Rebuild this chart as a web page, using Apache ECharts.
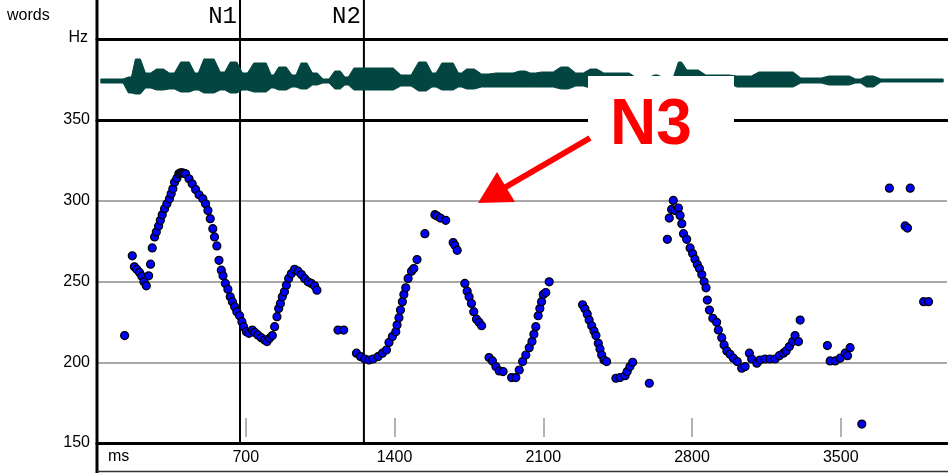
<!DOCTYPE html>
<html>
<head>
<meta charset="utf-8">
<title>pitch track</title>
<script src="https://cdn.jsdelivr.net/npm/echarts@6/dist/echarts.min.js"></script>
<style>
  html, body { margin: 0; padding: 0; background: #fff; }
  #chart { width: 948px; height: 473px; }
</style>
</head>
<body>
<div id="chart"></div>
<script>
// pitch track (ms, Hz)
const pitchMs = [
  130, 166, 176, 187, 200, 211, 221, 232, 243, 252, 260, 271, 279, 290, 298, 307, 318, 329, 341, 349,
  357, 365, 376, 385, 393, 401, 409, 417, 433, 448, 464, 480, 498, 511, 522, 533, 545, 553, 564, 574,
  585, 593, 604, 616, 627, 637, 648, 658, 671, 682, 690, 703, 715, 731, 742, 757, 773, 789, 800, 812,
  825, 836, 847, 855, 863, 872, 882, 891, 902, 915, 930, 946, 962, 977, 993, 1009, 1024, 1035,
  1134, 1161,
  1221, 1240, 1260, 1280, 1299, 1323, 1343, 1362, 1374, 1390, 1406, 1412, 1421, 1428, 1437, 1444, 1453, 1464,
  1480, 1491, 1506, 1543, 1590, 1600, 1616, 1641, 1676, 1684, 1695,
  1731, 1742, 1751, 1762, 1773, 1786, 1798, 1810,
  1845, 1861, 1877, 1893, 1911, 1951, 1971, 1987, 2003, 2018, 2034, 2047, 2056, 2065, 2076, 2084, 2092, 2100,
  2112, 2128,
  2285, 2296, 2307, 2316, 2328, 2339, 2348, 2359, 2367, 2375, 2386, 2398,
  2442, 2461, 2485, 2495, 2508, 2521, 2599,
  2684, 2693, 2704, 2712, 2720, 2736, 2744, 2752, 2760, 2775, 2791, 2803, 2814, 2825, 2835, 2846, 2857, 2866,
  2872, 2882, 2898, 2916, 2924, 2940, 2951, 2964, 2979, 2995, 3013, 3034, 3050, 3070, 3081, 3105, 3120, 3144,
  3167, 3191, 3211, 3230, 3243, 3258, 3274, 3285, 3301, 3309,
  3437, 3450, 3474, 3497, 3521, 3532, 3544, 3599,
  3729, 3803, 3814, 3827, 3890, 3913
]
const pitchHz = [
  216.5, 265.9, 259.1, 257.6, 255.6, 253.3, 249.8, 247.3, 253.5, 260.7, 270.8, 277.6, 280.7, 284.4, 287.9, 291.4, 295.1, 298.1, 301.2, 304.3,
  307.4, 311.5, 314, 316.7, 317.3, 317.3, 317, 316.7, 313.6, 310.5, 307, 303.7, 301.2, 298.1, 294, 288.9, 282.7, 277.6, 272, 263.1,
  257, 253.5, 248.8, 245.2, 240.5, 237.5, 234.4, 231.3, 228.8, 225.1, 222, 218.9, 217.9, 219.9, 218.5, 216.9, 215.2, 213.8, 212.8, 214.8,
  216.5, 222, 228.2, 233.3, 236.4, 240.5, 243.6, 247.7, 251.9, 254.9, 257.6, 256.4, 254.3, 251.9, 249.8, 248.8, 247.3, 244.6,
  219.9, 219.9,
  205.6, 203.5, 202, 201.4, 202, 203.5, 205.6, 207.6, 212.3, 215.9, 218.9, 223, 227.6, 232.3, 237.5, 242, 246.1, 251.9,
  256.4, 258, 263.6, 279.6, 291.4, 290.6, 289.3, 287.9, 274.1, 272.4, 269.3,
  248.8, 244, 240.5, 236.4, 231.3, 226.7, 224.7, 222.6,
  202.9, 200.8, 197.3, 194.6, 194.2, 190.5, 190.5, 195.2, 200.4, 204.5, 209, 212.8, 217.3, 222, 228.8, 233.3, 237.5, 242,
  243.2, 249.8,
  235.6, 233.1, 229.8, 226.1, 222.6, 219.3, 216.5, 211.7, 208.2, 204.5, 201.4, 200.4,
  190.1, 190.5, 191.7, 194.2, 197.3, 200, 187,
  276.1, 289.3, 294.6, 300.2, 294, 295.5, 290.9, 285.8, 279.6, 276.1, 270.8, 267.3, 263.8, 260.5, 258, 254.3, 249.8, 246.1,
  238.5, 232.3, 227.2, 224.7, 220, 215.2, 210.7, 207, 204.9, 202.5, 200.4, 196.3, 197.3, 205.6, 202, 199.4, 201.4, 202,
  202, 202, 204.1, 205.6, 207, 209.7, 212.8, 216.5, 212.8, 226.1,
  210.3, 200.8, 200.8, 202.5, 205.6, 204.1, 209, 161.7,
  307.8, 284.4, 283.1, 307.8, 237.5, 237.5
]

// waveform envelope: [start ms, end ms, upper, lower]
const waveSegments = [
  [0, 141, 2, -2], [141, 169, 4, -12], [169, 216, 22, -13], [216, 264, 8, -7],
  [264, 329, 12, -9], [329, 376, 8, -8], [376, 452, 19, -11], [452, 485, 8, -9],
  [485, 569, 22, -12], [569, 612, 9, -9], [612, 673, 19, -12], [673, 720, 8, -9],
  [720, 814, 18, -11], [814, 838, 6, -7], [838, 908, 14, -9], [908, 946, 6, -6],
  [946, 1002, 18, -8], [1002, 1049, 8, -4], [1049, 1106, 2, -2], [1106, 1158, 10, -8],
  [1158, 1191, 4, -4], [1191, 1412, 13, -9], [1412, 1496, 6, -5], [1496, 1567, 19, -10],
  [1567, 1605, 8, -6], [1605, 1694, 18, -9], [1694, 1722, 8, -6], [1722, 1793, 12, -8],
  [1793, 1859, 7, -6], [1859, 1976, 8, -6], [1976, 2028, 10, -6], [2028, 2075, 8, -6],
  [2075, 2165, 9, -6], [2165, 2235, 14, -8], [2235, 2306, 8, -5], [2306, 2367, 12, -7],
  [2367, 2522, 8, -5], [2522, 2612, 3, -3], [2612, 2649, 6, -2], [2649, 2729, 3, -3],
  [2729, 2758, 19, -5], [2758, 2847, 11, -5], [2847, 2993, 6, -2], [2993, 3097, 5, -6],
  [3097, 3294, 9, -6], [3294, 3426, 3, -2], [3426, 3558, 5, -4], [3558, 3605, 2, -2],
  [3605, 3671, 5, -6], [3671, 4000, 2, -1]
]

// word boundaries
const wordTimes = [673, 1256]
const wordLabels = ['N1', 'N2']

const msTicks = [700, 1400, 2100, 2800, 3500]

const FONT = 'Liberation Sans'
const chart = echarts.init(document.getElementById('chart'))

const plainAxis = (grid, position) => ({
  gridIndex: grid, type: 'value', min: 0, max: 4000, position: position,
  axisLine: { onZero: false, lineStyle: { color: '#000', width: 3 } },
  axisTick: { show: false }, axisLabel: { show: false }, splitLine: { show: false }
})

// envelope outline: each segment becomes a small trapezoid so humps look rounded
function envelopePoints(api) {
  const upper = []
  const lower = []
  waveSegments.forEach(([s, e, top, bottom]) => {
    const r = Math.min(18, (e - s) * 0.25)
    upper.push(api.coord([s + r, top]), api.coord([e - r, top]))
    lower.push(api.coord([s + r, bottom]), api.coord([e - r, bottom]))
  })
  return upper.concat(lower.reverse())
}

chart.setOption({
  animation: false,
  grid: [
    { left: 97, width: 850, top: 39, height: 80 }, // waveform
    { left: 97, width: 850, top: 120, height: 323 }, // pitch
    { left: 97, width: 850, top: 0, height: 443 } // word boundaries
  ],
  xAxis: [
    plainAxis(0, 'top'),
    plainAxis(1, 'top'),
    {
      gridIndex: 1, type: 'value', min: 0, max: 4000, position: 'bottom',
      axisLine: { onZero: false, lineStyle: { color: '#000', width: 3 } },
      axisTick: { show: false },
      axisLabel: {
        customValues: msTicks, margin: 7, formatter: v => String(v),
        color: '#000', fontSize: 16, fontFamily: FONT
      },
      splitLine: { show: false }
    },
    {
      // short grey ticks sitting just above the time axis
      gridIndex: 1, type: 'value', min: 0, max: 4000, position: 'bottom', offset: -6,
      axisLine: { show: false },
      axisTick: { inside: true, length: 19, customValues: msTicks, lineStyle: { color: '#999', width: 1.5 } },
      axisLabel: { show: false }, splitLine: { show: false }
    },
    { gridIndex: 2, type: 'value', min: 0, max: 4000, show: false }
  ],
  yAxis: [
    { gridIndex: 0, type: 'value', min: -38, max: 42, show: false },
    {
      gridIndex: 1, type: 'value', min: 150, max: 350, interval: 50,
      axisLine: { show: false }, axisTick: { show: false },
      axisLabel: { margin: 7, color: '#000', fontSize: 16, fontFamily: FONT },
      splitLine: { lineStyle: { color: '#a8a8a8', width: 2 } }
    },
    { gridIndex: 2, type: 'value', min: 0, max: 1, show: false }
  ],
  series: [
    {
      type: 'custom',
      xAxisIndex: 0, yAxisIndex: 0,
      data: [[0, 0]],
      renderItem(params, api) {
        return {
          type: 'polygon',
          shape: { points: envelopePoints(api) },
          style: { fill: '#034641', stroke: '#034641', lineWidth: 1 }
        }
      },
      z: 2
    },
    {
      type: 'custom',
      xAxisIndex: 4, yAxisIndex: 2,
      data: wordTimes.map(t => [t]),
      encode: { x: 0 },
      renderItem(params, api) {
        const x = api.coord([api.value(0), 0])[0]
        const cs = params.coordSys
        return {
          type: 'group',
          children: [
            {
              type: 'line',
              shape: { x1: x, y1: cs.y, x2: x, y2: cs.y + cs.height },
              style: { stroke: '#000', lineWidth: 2 }
            },
            {
              type: 'text',
              style: {
                text: wordLabels[params.dataIndex], x: x - 3, y: 29,
                align: 'right', verticalAlign: 'bottom',
                fontSize: 24, fontFamily: 'Liberation Mono', fill: '#000'
              }
            }
          ]
        }
      },
      z: 1
    },
    {
      type: 'scatter',
      xAxisIndex: 2, yAxisIndex: 1,
      data: pitchMs.map((t, i) => [t, pitchHz[i]]),
      symbolSize: 8,
      itemStyle: { color: '#0000ff', borderColor: '#000', borderWidth: 1.2, opacity: 1 },
      z: 3
    }
  ],
  graphic: [
    { type: 'line', shape: { x1: 97, y1: 0, x2: 97, y2: 473 }, style: { stroke: '#000', lineWidth: 3 }, z: 50 },
    { type: 'line', shape: { x1: 97, y1: 471.5, x2: 948, y2: 471.5 }, style: { stroke: '#333', lineWidth: 1.5 }, z: 50 },
    { type: 'text', left: 7, top: 8, style: { text: 'words', fontSize: 16, fontFamily: FONT, fill: '#000' } },
    { type: 'text', right: 860, top: 30, style: { text: 'Hz', fontSize: 16, fontFamily: FONT, fill: '#000' } },
    { type: 'text', left: 108, top: 449, style: { text: 'ms', fontSize: 16, fontFamily: FONT, fill: '#000' } },
    // N3 callout
    { type: 'rect', z: 100, shape: { x: 588, y: 76, width: 146, height: 88 }, style: { fill: '#fff' } },
    {
      type: 'text', z: 101,
      style: {
        text: 'N3', x: 651, y: 126, align: 'center', verticalAlign: 'middle',
        fontSize: 64, fontWeight: 'bold', fontFamily: FONT, fill: '#ff0000'
      }
    },
    { type: 'line', z: 101, shape: { x1: 590, y1: 138, x2: 504, y2: 188 }, style: { stroke: '#ff0000', lineWidth: 6 } },
    { type: 'polygon', z: 101, shape: { points: [[478, 203], [497, 172], [515, 202]] }, style: { fill: '#ff0000' } }
  ]
})
</script>
</body>
</html>
